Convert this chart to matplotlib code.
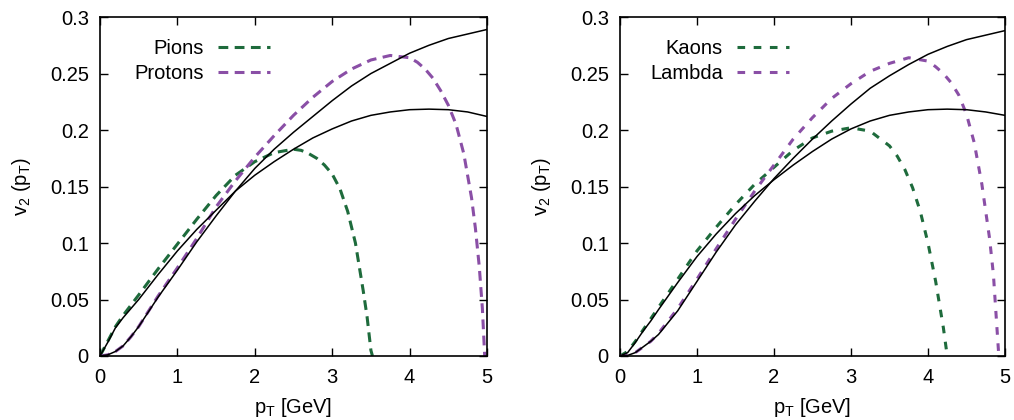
import matplotlib
matplotlib.use("Agg")
import matplotlib.pyplot as plt

plt.rcParams['font.family'] = ['Liberation Sans', 'DejaVu Sans']
plt.rcParams['mathtext.fontset'] = 'custom'
plt.rcParams['mathtext.rm'] = 'Liberation Sans'
plt.rcParams['mathtext.it'] = 'Liberation Sans'
plt.rcParams['font.size'] = 14.5

GREEN = '#1e6b3c'
PURPLE = '#8a4fa6'

# ---- left panel: pions / protons ----
pt_pi_sol = [0, 0.1, 0.2, 0.3, 0.4, 0.5, 0.75, 1.0, 1.25, 1.5, 1.75, 2.0, 2.25, 2.5,
             2.75, 3.0, 3.25, 3.5, 3.75, 4.0, 4.25, 4.5, 4.75, 5.0]
v2_pi_sol = [0, 0.012, 0.025, 0.034, 0.042, 0.050, 0.072, 0.093, 0.112, 0.129, 0.146,
             0.160, 0.172, 0.183, 0.193, 0.201, 0.208, 0.213, 0.216, 0.218, 0.2185,
             0.218, 0.216, 0.212]

pt_p_sol = [0, 0.1, 0.2, 0.3, 0.4, 0.5, 0.75, 1.0, 1.25, 1.5, 1.75, 2.0, 2.25, 2.5,
            2.75, 3.0, 3.25, 3.5, 3.75, 4.0, 4.25, 4.5, 4.75, 5.0]
v2_p_sol = [0, 0.001, 0.004, 0.009, 0.017, 0.026, 0.052, 0.076, 0.101, 0.124, 0.146,
            0.166, 0.183, 0.198, 0.212, 0.226, 0.239, 0.250, 0.259, 0.268, 0.275,
            0.281, 0.285, 0.289]

pt_pi_dash = [0, 0.1, 0.2, 0.3, 0.4, 0.5, 0.75, 1.0, 1.25, 1.5, 1.75, 2.0, 2.25, 2.5,
              2.6, 2.7, 2.8, 2.9, 3.0, 3.1, 3.2, 3.3, 3.4, 3.45, 3.5, 3.52]
v2_pi_dash = [0, 0.013, 0.026, 0.036, 0.045, 0.054, 0.077, 0.099, 0.121, 0.142, 0.160,
              0.172, 0.180, 0.183, 0.182, 0.179, 0.175, 0.169, 0.161, 0.148, 0.128,
              0.100, 0.058, 0.035, 0.005, 0.0]

pt_p_dash = [0, 0.1, 0.2, 0.3, 0.4, 0.5, 0.75, 1.0, 1.25, 1.5, 1.75, 2.0, 2.25, 2.5,
             2.75, 3.0, 3.25, 3.5, 3.75, 4.0, 4.1, 4.2, 4.3, 4.4, 4.5, 4.6, 4.7, 4.8,
             4.85, 4.9, 4.94, 4.97]
v2_p_dash = [0, 0.001, 0.004, 0.009, 0.017, 0.026, 0.053, 0.078, 0.104, 0.132, 0.155,
             0.176, 0.195, 0.213, 0.229, 0.243, 0.254, 0.262, 0.266, 0.264, 0.260,
             0.254, 0.246, 0.235, 0.222, 0.205, 0.179, 0.140, 0.113, 0.079, 0.042, 0.0]

# ---- right panel: kaons / lambda ----
pt_k_sol = [0, 0.1, 0.2, 0.3, 0.4, 0.5, 0.75, 1.0, 1.25, 1.5, 1.75, 2.0, 2.25, 2.5,
            2.75, 3.0, 3.25, 3.5, 3.75, 4.0, 4.25, 4.5, 4.75, 5.0]
v2_k_sol = [0, 0.003, 0.012, 0.022, 0.031, 0.041, 0.065, 0.088, 0.108, 0.126, 0.142,
            0.156, 0.169, 0.181, 0.192, 0.201, 0.208, 0.213, 0.216, 0.218, 0.2185,
            0.218, 0.216, 0.213]

pt_l_sol = [0, 0.1, 0.2, 0.3, 0.4, 0.5, 0.75, 1.0, 1.25, 1.5, 1.75, 2.0, 2.25, 2.5,
            2.75, 3.0, 3.25, 3.5, 3.75, 4.0, 4.25, 4.5, 4.75, 5.0]
v2_l_sol = [0, 0.0005, 0.003, 0.008, 0.013, 0.019, 0.040, 0.066, 0.092, 0.116, 0.137,
            0.157, 0.175, 0.192, 0.208, 0.223, 0.237, 0.248, 0.258, 0.267, 0.274,
            0.280, 0.284, 0.288]

pt_k_dash = [0, 0.1, 0.2, 0.3, 0.4, 0.5, 0.75, 1.0, 1.25, 1.5, 1.75, 2.0, 2.25, 2.5,
             2.75, 3.0, 3.25, 3.5, 3.6, 3.7, 3.8, 3.9, 4.0, 4.1, 4.2, 4.25]
v2_k_dash = [0, 0.004, 0.013, 0.023, 0.033, 0.043, 0.068, 0.093, 0.114, 0.134, 0.152,
             0.167, 0.182, 0.193, 0.199, 0.202, 0.199, 0.186, 0.177, 0.165, 0.149,
             0.128, 0.100, 0.066, 0.025, 0.0]

pt_l_dash = [0, 0.1, 0.2, 0.3, 0.4, 0.5, 0.75, 1.0, 1.25, 1.5, 1.75, 2.0, 2.25, 2.5,
             2.75, 3.0, 3.25, 3.5, 3.75, 4.0, 4.1, 4.2, 4.3, 4.4, 4.5, 4.6, 4.7, 4.8,
             4.85, 4.88, 4.92]
v2_l_dash = [0, 0.0005, 0.003, 0.008, 0.013, 0.020, 0.042, 0.068, 0.095, 0.121, 0.146,
             0.169, 0.192, 0.211, 0.228, 0.241, 0.252, 0.259, 0.264, 0.261, 0.256,
             0.250, 0.242, 0.231, 0.214, 0.189, 0.152, 0.104, 0.072, 0.041, 0.0]

xticks = [0, 1, 2, 3, 4, 5]
yticks = [0, 0.05, 0.1, 0.15, 0.2, 0.25, 0.3]
ytick_labels = ['0', '0.05', '0.1', '0.15', '0.2', '0.25', '0.3']

fig = plt.figure(figsize=(10.14, 4.2), dpi=100)
ax1 = fig.add_axes([0.0986, 0.1524, 0.3817, 0.807])
ax2 = fig.add_axes([0.6114, 0.1524, 0.3797, 0.807])

solid = dict(color='black', lw=1.1)

panels = [
    (ax1, (3.2, 2.1), (pt_pi_sol, v2_pi_sol), (pt_p_sol, v2_p_sol),
     (pt_pi_dash, v2_pi_dash, 'Pions'), (pt_p_dash, v2_p_dash, 'Protons')),
    (ax2, (2.5, 2.8), (pt_k_sol, v2_k_sol), (pt_l_sol, v2_l_sol),
     (pt_k_dash, v2_k_dash, 'Kaons'), (pt_l_dash, v2_l_dash, 'Lambda')),
]

for ax, dpat, s1, s2, d1, d2 in panels:
    dash = dict(lw=2.2, dashes=dpat, dash_capstyle='butt')
    h1, = ax.plot(d1[0], d1[1], color=GREEN, label=d1[2], **dash)
    h2, = ax.plot(d2[0], d2[1], color=PURPLE, label=d2[2], **dash)
    ax.plot(s1[0], s1[1], **solid)
    ax.plot(s2[0], s2[1], **solid)

    ax.set_xlim(0, 5)
    ax.set_ylim(0, 0.3)
    ax.set_xticks(xticks)
    ax.set_yticks(yticks)
    ax.set_yticklabels(ytick_labels)
    ax.tick_params(direction='in', top=True, right=True, length=6, width=1.0,
                   labelsize=14.5)
    ax.tick_params(axis='x', pad=9)
    ax.tick_params(axis='y', pad=8)
    for sp in ax.spines.values():
        sp.set_linewidth(1.2)

    ax.set_xlabel(r'$\mathregular{p_T}$ [GeV]', labelpad=6)
    ax.set_ylabel(r'$\mathregular{v_2}$ ($\mathregular{p_T}$)', labelpad=12)

    ax.legend(handles=[h1, h2], loc='upper right', bbox_to_anchor=(0.44, 0.935),
              frameon=False, markerfirst=False, handlelength=2.6,
              handletextpad=0.7, labelspacing=0.3, borderpad=0, borderaxespad=0)

fig.savefig('out.png', dpi=100)
